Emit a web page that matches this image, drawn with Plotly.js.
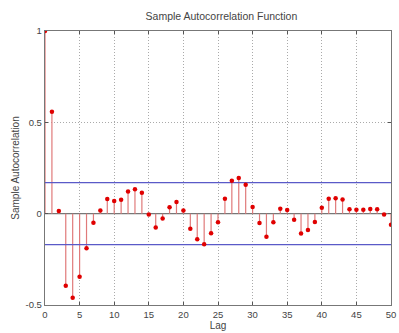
<!DOCTYPE html>
<html>
<head>
<meta charset="utf-8">
<script src="https://cdn.plot.ly/plotly-3.0.1.min.js"></script>
<style>html,body{margin:0;padding:0;background:#fff;}#chart{width:399px;height:333px;}</style>
</head>
<body>
<div id="chart"></div>
<script>
const lags = [];
for (let i = 0; i <= 50; i++) lags.push(i);
const acf = [1, 0.558, 0.015, -0.395, -0.46, -0.345, -0.19, -0.05, 0.018, 0.08,
  0.07, 0.076, 0.122, 0.133, 0.115, -0.005, -0.076, -0.027, 0.035, 0.064,
  0.018, -0.082, -0.14, -0.167, -0.107, -0.047, 0.082, 0.18, 0.195, 0.158,
  0.036, -0.051, -0.127, -0.047, 0.027, 0.02, -0.033, -0.109, -0.09, -0.045,
  0.033, 0.082, 0.085, 0.078, 0.024, 0.022, 0.022, 0.025, 0.024, -0.005, -0.06];
const upperBound = 0.17;
const lowerBound = -0.17;
const xTicks = [0, 5, 10, 15, 20, 25, 30, 35, 40, 45, 50];
const yTicks = [-0.5, 0, 0.5, 1];

const stemX = [], stemY = [];
lags.forEach((l, i) => { stemX.push(l, l, null); stemY.push(0, acf[i], null); });

const fam = 'Liberation Sans, Arial, sans-serif';
const font = {family: fam, size: 9.5, color: '#444'};
const traces = [
  {x: [0, 50], y: [0, 0], mode: 'lines', line: {color: '#777', width: 1.2}, hoverinfo: 'skip'},
  {x: stemX, y: stemY, mode: 'lines', line: {color: '#e07a7a', width: 1.2}, hoverinfo: 'skip'},
  {x: [0, 50], y: [upperBound, upperBound], mode: 'lines', line: {color: '#5a5ac8', width: 1.2}},
  {x: [0, 50], y: [lowerBound, lowerBound], mode: 'lines', line: {color: '#5a5ac8', width: 1.2}},
  {x: lags, y: acf, mode: 'markers', marker: {color: '#e00000', size: 4.5}}
];
const axisCommon = {
  showline: true, mirror: 'ticks', linecolor: '#777', linewidth: 1.2,
  ticks: 'inside', ticklen: 3, tickcolor: '#555',
  showgrid: true, gridcolor: '#aaa', griddash: '1px,2px', gridwidth: 1,
  zeroline: false, tickfont: font, ticklabeloverflow: 'allow'
};
const layout = {
  width: 399, height: 333,
  margin: {l: 45, r: 8, t: 31, b: 28},
  paper_bgcolor: '#fff', plot_bgcolor: '#fff',
  showlegend: false,
  font: font,
  title: {text: 'Sample Autocorrelation Function', font: {family: fam, size: 10.5, color: '#444'}, x: 0.555, xanchor: 'center', y: 0.94, yanchor: 'bottom'},
  xaxis: Object.assign({}, axisCommon, {range: [0, 50], tickvals: xTicks, ticktext: xTicks.map(String),
    title: {text: 'Lag', font: {family: fam, size: 10, color: '#444'}, standoff: 1}}),
  yaxis: Object.assign({}, axisCommon, {range: [-0.5, 1], tickvals: yTicks, ticktext: yTicks.map(String),
    title: {text: 'Sample Autocorrelation', font: {family: fam, size: 10, color: '#444'}, standoff: 4}})
};
Plotly.newPlot('chart', traces, layout, {displayModeBar: false, staticPlot: true});
</script>
</body>
</html>
